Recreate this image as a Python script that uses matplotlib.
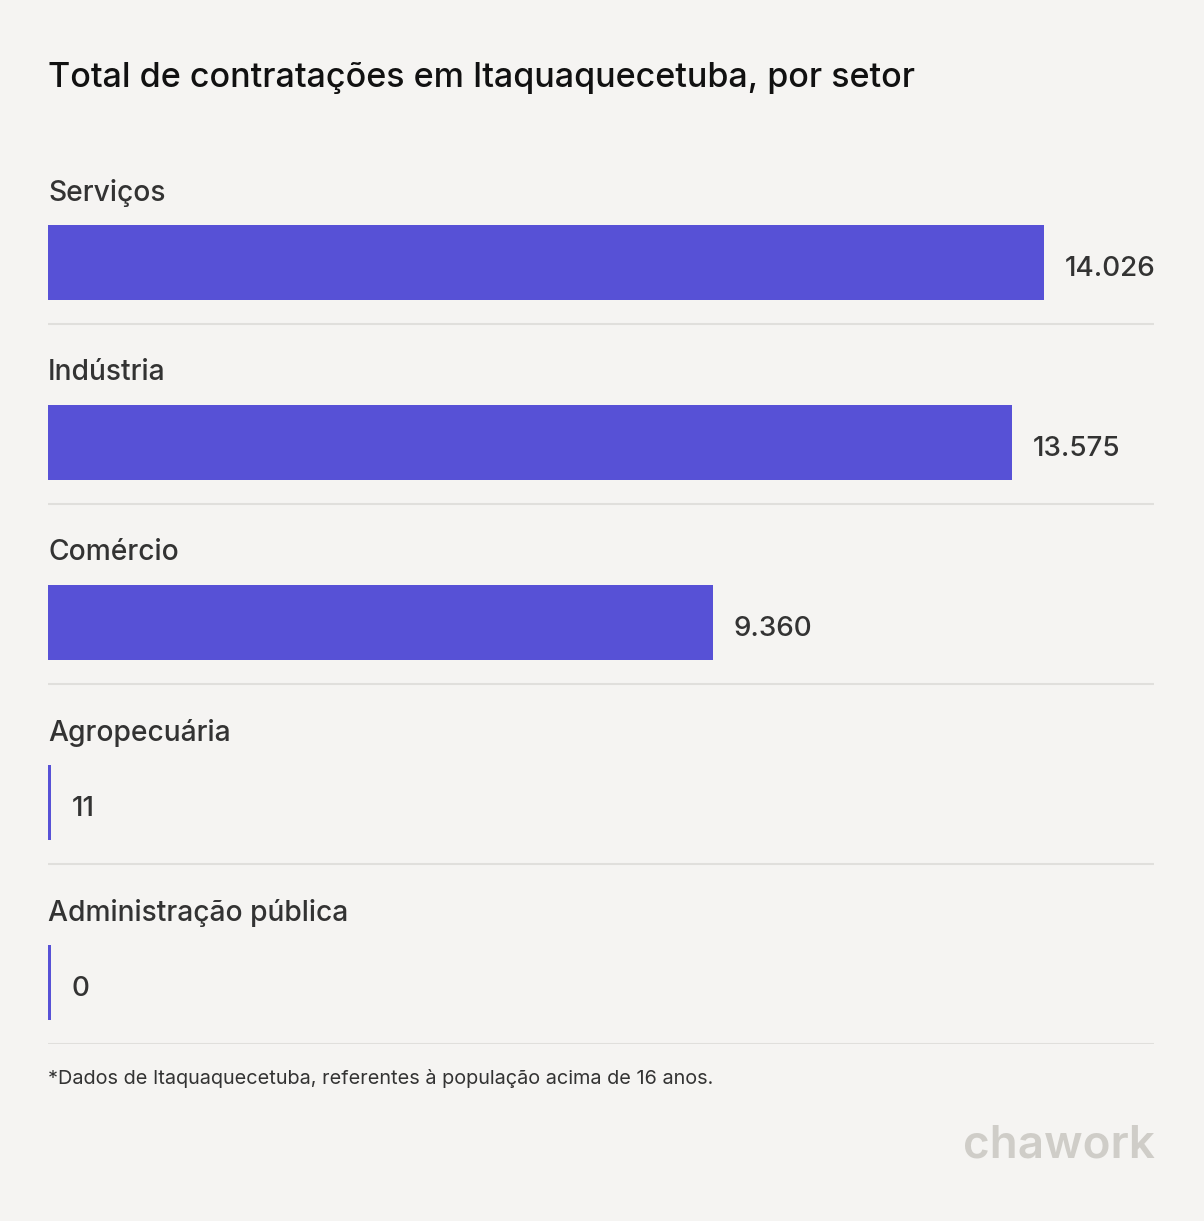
import matplotlib.pyplot as plt

# Data
setores = ['Serviços', 'Indústria', 'Comércio', 'Agropecuária', 'Administração pública']
contratacoes = [14026, 13575, 9360, 11, 0]

titulo = 'Total de contratações em Itaquaquecetuba, por setor'
nota = '*Dados de Itaquaquecetuba, referentes à população acima de 16 anos.'
marca = 'chawork'

bg = '#F5F4F2'
bar_color = '#5751D6'
text_color = '#333333'
sep_color = '#E0DFDC'

plt.rcParams['font.family'] = ['Inter', 'DejaVu Sans']

W, H = 1204, 1221
fig = plt.figure(figsize=(W / 100, H / 100), dpi=100, facecolor=bg)

# axes in pixel layout: x from 48 to 1154, rows from y=144 to y=1044
ax = fig.add_axes([48 / W, (H - 1044) / H, 1106 / W, 900 / H])
ax.set_facecolor(bg)
xmax = max(contratacoes) * 1106 / 996
ax.set_xlim(0, xmax)
ax.set_ylim(len(setores), 0)
ax.axis('off')

min_w = 3 * xmax / 1106
for i, (nome, v) in enumerate(zip(setores, contratacoes)):
    w = max(v, min_w)
    ax.barh(i + 0.658, w, height=0.417, color=bar_color, align='center')
    ax.text(0, i + 0.272, nome, fontsize=20.3, color=text_color,
            fontweight='medium', ha='left', va='center')
    ax.annotate(f'{v:,}'.replace(',', '.'), xy=(w, i + 0.658),
                xytext=(15, -4.5), textcoords='offset points',
                fontsize=20.0, color=text_color, fontweight='medium',
                ha='left', va='center')
    ax.axhline(i + 1, color=sep_color, lw=1.5)

fig.text(48 / W, 1 - 78 / H, titulo, fontsize=24.5, color='#111111',
         fontweight='medium', ha='left', va='center')
fig.text(48 / W, 1 - 1079 / H, nota, fontsize=14.3, color=text_color,
         ha='left', va='center')
fig.text(1155 / W, 1 - 1146 / H, marca, fontsize=33, color='#CFCDC8',
         fontweight='semibold', ha='right', va='center')

fig.savefig('out.png', dpi=100, facecolor=bg)
